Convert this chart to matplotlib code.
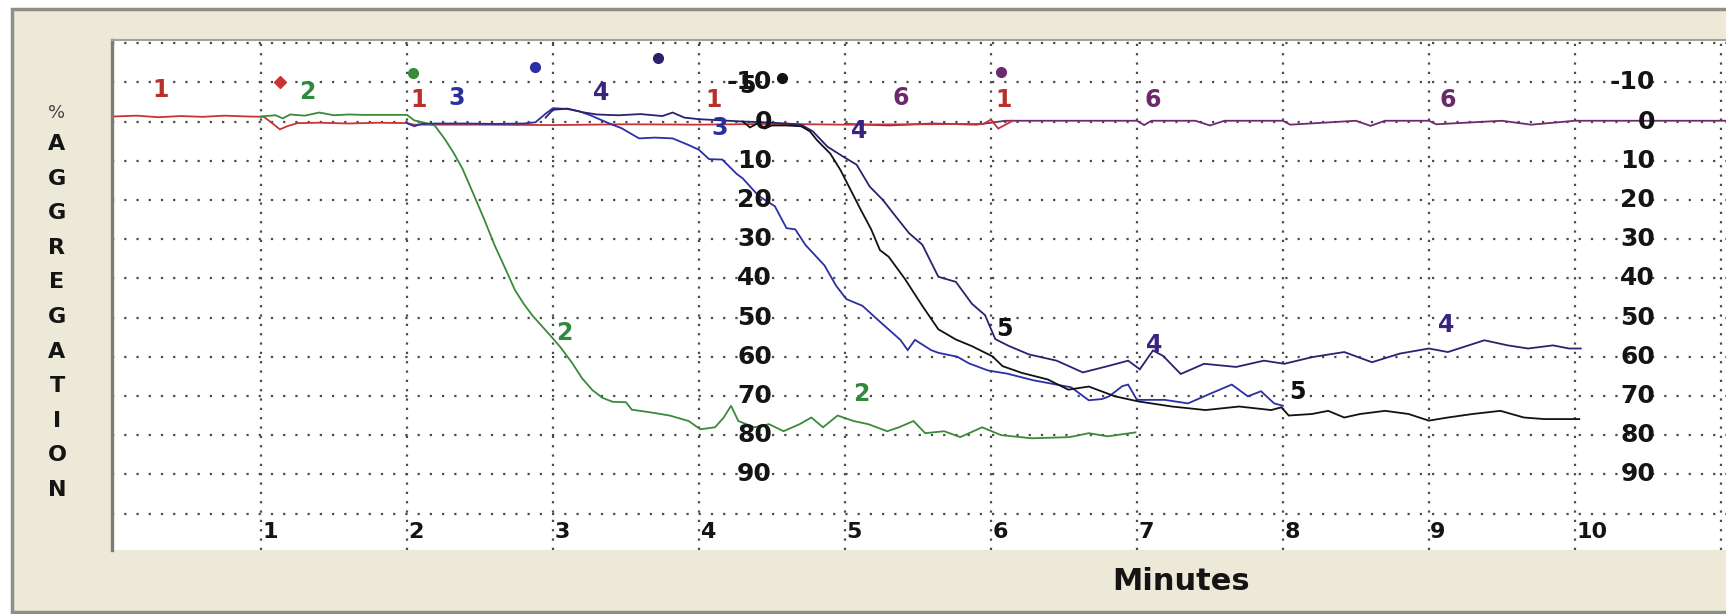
"""
Platelet aggregation tracing: six channels plotted against time,
drawn in the style of the aggregometer's own screen (beige panel,
dotted grid, % aggregation increasing downwards).
Output: out.png
"""

import matplotlib
matplotlib.use('Agg')
import matplotlib.pyplot as plt
from matplotlib.patches import Rectangle

# ── TRACES (minutes, % aggregation) ────────────────────────────────────────────
T1 = [0.0, 0.15, 0.3, 0.45, 0.6, 0.75, 0.9, 1.02, 1.08, 1.13, 1.18, 1.25, 1.4,
      1.6, 1.8, 2.0, 2.05, 2.5, 3.0, 3.5, 4.0, 4.5, 5.0, 5.5, 5.95, 6.0, 6.05,
      6.1, 6.15]
Y1 = [-1.3, -1.5, -1.1, -1.4, -1.2, -1.5, -1.3, -1.2, 0.5, 2.0, 1.2, 0.4, 0.3,
      0.5, 0.3, 0.4, 0.8, 0.8, 0.9, 0.7, 0.8, 0.6, 0.8, 0.7, 0.6, -0.5, 1.8,
      0.8, -0.2]

T2 = [1.0, 1.1, 1.15, 1.2, 1.3, 1.4, 1.5, 1.6, 1.7, 1.8, 1.9, 2.0, 2.05, 2.12,
      2.19, 2.26, 2.32, 2.38, 2.45, 2.53, 2.6, 2.68, 2.74, 2.8, 2.86, 2.92,
      2.98, 3.05, 3.13, 3.2, 3.27, 3.34, 3.41, 3.5, 3.54, 3.67, 3.80, 3.93,
      4.01, 4.11, 4.17, 4.22, 4.27, 4.38, 4.48, 4.58, 4.69, 4.77, 4.85, 4.95,
      5.06, 5.16, 5.29, 5.37, 5.47, 5.55, 5.68, 5.79, 5.94, 6.07, 6.28, 6.54,
      6.67, 6.8, 6.99]
Y2 = [-1.3, -1.6, -0.8, -1.8, -1.5, -2.3, -1.6, -1.8, -1.7, -1.7, -1.7, -1.7,
      -0.3, 0.3, 1.0, 4.5, 8.0, 12.0, 18.0, 25.0, 31.5, 38.0, 43.0, 46.5,
      49.5, 52.0, 54.5, 57.5, 61.5, 65.5, 68.5, 70.5, 71.5, 71.6, 73.5, 74.2,
      75.0, 76.4, 78.5, 78.0, 75.5, 72.5, 76.4, 78.0, 77.2, 79.0, 77.2, 75.5,
      78.0, 75.0, 76.4, 77.2, 79.0, 78.0, 76.4, 79.5, 79.0, 80.5, 78.0, 80.0,
      80.8, 80.5, 79.5, 80.3, 79.3]

T3 = [2.0, 2.05, 2.1, 2.2, 2.4, 2.6, 2.8, 2.88, 2.95, 3.0, 3.1, 3.18, 3.25,
      3.38, 3.47, 3.59, 3.7, 3.82, 3.93, 4.0, 4.07, 4.16, 4.26, 4.3, 4.41,
      4.52, 4.6, 4.66, 4.73, 4.86, 4.94, 5.01, 5.12, 5.25, 5.38, 5.43, 5.48,
      5.59, 5.64, 5.77, 5.85, 5.98, 6.11, 6.29, 6.42, 6.55, 6.67, 6.76, 6.81,
      6.9, 6.94, 7.0, 7.19, 7.35, 7.51, 7.65, 7.76, 7.85, 7.94, 8.0]
Y3 = [0.4, 1.2, 0.6, 0.5, 0.5, 0.6, 0.5, 0.2, -2.0, -3.4, -3.2, -2.6, -1.7,
      0.4, 1.7, 4.3, 4.1, 4.3, 6.0, 7.2, 9.6, 9.7, 13.4, 14.5, 19.0, 21.6,
      27.2, 27.5, 31.5, 36.7, 41.9, 45.3, 47.0, 51.4, 55.7, 58.3, 55.7, 58.3,
      59.0, 60.0, 61.7, 63.5, 64.3, 66.0, 66.9, 67.8, 71.1, 70.8, 70.1, 67.5,
      67.1, 71.0, 71.0, 71.9, 69.3, 67.1, 70.1, 68.8, 71.9, 72.5]

T4 = [2.95, 3.0, 3.1, 3.2, 3.3, 3.45, 3.6, 3.75, 3.82, 3.9, 4.0, 4.15, 4.3,
      4.45, 4.6, 4.7, 4.78, 4.88, 4.99, 5.08, 5.17, 5.26, 5.35, 5.44, 5.53,
      5.64, 5.76, 5.87, 5.96, 6.03, 6.12, 6.26, 6.45, 6.63, 6.81, 6.94, 7.02,
      7.11, 7.18, 7.3, 7.46, 7.68, 7.87, 8.01, 8.2, 8.42, 8.61, 8.8, 9.0,
      9.13, 9.38, 9.54, 9.68, 9.85, 9.96, 10.04]
Y4 = [-1.0, -3.0, -3.3, -2.4, -1.8, -1.6, -1.9, -1.4, -2.3, -1.0, -0.6, -0.3,
      0.0, 0.2, 0.5, 0.8, 2.5, 6.4, 9.0, 11.0, 16.6, 20.0, 24.3, 28.5, 31.4,
      39.6, 40.9, 46.5, 49.4, 55.5, 57.2, 59.4, 61.0, 64.0, 62.3, 61.0, 63.2,
      58.4, 59.8, 64.4, 61.8, 62.6, 61.0, 61.8, 60.1, 58.8, 61.4, 59.2, 57.9,
      58.8, 55.8, 57.1, 57.9, 57.1, 57.9, 57.9]

T5 = [4.3, 4.35, 4.4, 4.45, 4.5, 4.6, 4.7, 4.76, 4.81, 4.9, 4.97, 5.04, 5.11,
      5.18, 5.24, 5.3, 5.41, 5.53, 5.64, 5.76, 5.87, 6.01, 6.08, 6.21, 6.39,
      6.53, 6.67, 6.85, 7.01, 7.24, 7.47, 7.7, 7.92, 7.99, 8.04, 8.2, 8.31,
      8.42, 8.53, 8.7, 8.86, 9.0, 9.13, 9.3, 9.49, 9.65, 9.79, 10.03]
Y5 = [0.0, 1.5, 0.5, 1.8, 1.0, 1.0, 1.2, 2.5, 4.8, 8.2, 12.4, 17.5, 22.6,
      27.5, 32.8, 34.5, 40.1, 47.0, 53.0, 55.6, 57.3, 59.9, 62.4, 64.1, 65.8,
      68.4, 67.6, 70.1, 71.4, 72.7, 73.6, 72.7, 73.6, 72.9, 75.0, 74.6, 73.8,
      75.5, 74.6, 73.8, 74.6, 76.3, 75.5, 74.6, 73.8, 75.5, 75.9, 75.9]

T6 = [5.0, 5.3, 5.6, 5.9, 6.1, 6.5, 7.0, 7.05, 7.1, 7.4, 7.5, 7.6, 8.0, 8.05,
      8.5, 8.6, 8.7, 9.0, 9.05, 9.5, 9.7, 10.0, 10.5, 11.07]
Y6 = [0.6, 1.0, 0.5, 0.8, -0.2, -0.2, -0.2, 0.9, -0.2, -0.2, 1.0, -0.2, -0.2,
      0.8, -0.2, 1.1, -0.2, -0.2, 0.7, -0.2, 0.8, -0.2, -0.2, -0.2]

# reagent addition marks at the top of each channel
MARK_T = [1.13, 2.04, 2.88, 3.72, 4.57, 6.07]
MARK_Y = [-10.1, -12.3, -13.9, -16.1, -11.0, -12.7]
MARK_ID = ['1', '2', '3', '4', '5', '6']

# channel number tags written along the traces
TAG_TEXT = ['1', '2', '1', '3', '4', '1', '5', '3', '4', '6', '1', '6', '6',
            '2', '2', '5', '4', '5', '4']
TAG_T = [0.31, 1.32, 2.08, 2.34, 3.33, 4.10, 4.33, 4.14, 5.10, 5.38, 6.09,
         7.11, 9.13, 3.08, 5.11, 6.09, 7.12, 8.10, 9.12]
TAG_Y = [-8.0, -7.5, -5.5, -6.0, -7.2, -5.5, -9.0, 1.6, 2.3, -5.9, -5.5,
         -5.5, -5.5, 54.0, 69.5, 53.0, 57.0, 69.0, 52.0]

SCALE_VALUES = [-10, 0, 10, 20, 30, 40, 50, 60, 70, 80, 90]
SCALE_COLUMNS = [4.50, 10.55]
MINUTE_TICKS = [1, 2, 3, 4, 5, 6, 7, 8, 9, 10]

# ── STYLE ──────────────────────────────────────────────────────────────────────
W, H = 1726, 614
PANEL = '#ECE9D8'
FRAME = '#8E8E84'
LINE_COLORS = {'1': '#C83434', '2': '#3A8A3A', '3': '#2B2FA6',
               '4': '#2E2070', '5': '#111111', '6': '#6E2A6E'}
TAG_COLORS = {'1': '#B8302A', '2': '#2F8A3C', '3': '#2B2F9A',
              '4': '#3A2480', '5': '#111111', '6': '#6A2A6A'}
FONT = 'DejaVu Sans'

fig = plt.figure(figsize=(W / 100, H / 100), dpi=100, facecolor='white')

# beige instrument panel with grey bevel
fig.add_artist(Rectangle((12 / W, 2 / H), 1.2, (612 - 9) / H,
                         transform=fig.transFigure, facecolor=PANEL,
                         edgecolor=FRAME, linewidth=2.5, zorder=0))

ax = fig.add_axes([112 / W, 1 - 550 / H, 1 - 112 / W, (550 - 40) / H])
ax.set_facecolor('white')
ax.set_xlim(-0.02, 11.035)
ax.set_ylim(109.3, -20.8)
ax.set_xticks([])
ax.set_yticks([])
for side in ('right', 'bottom'):
    ax.spines[side].set_visible(False)
ax.spines['left'].set_color('#7D7D72')
ax.spines['left'].set_linewidth(2.4)
ax.spines['top'].set_color('#A3A39A')
ax.spines['top'].set_linewidth(1.5)

# dotted grid
for k in range(1, 12):
    ax.axvline(k, color='#4A4A4A', lw=1.6, ls=(0, (1, 3.2)), zorder=1)
for v in range(-20, 101, 10):
    ax.axhline(v, color='#4A4A4A', lw=1.6, ls=(0, (1, 4.5)), zorder=1)

# ── TRACES ─────────────────────────────────────────────────────────────────────
traces = [('6', T6, Y6), ('1', T1, Y1), ('2', T2, Y2),
          ('3', T3, Y3), ('4', T4, Y4), ('5', T5, Y5)]
for cid, t, y in traces:
    ax.plot(t, y, color=LINE_COLORS[cid], lw=1.3, zorder=3,
            solid_joinstyle='miter')

for t, y, cid in zip(MARK_T, MARK_Y, MARK_ID):
    ax.plot(t, y, marker='D' if cid == '1' else 'o', ms=6 if cid == '1' else 7,
            color=LINE_COLORS[cid], mec=LINE_COLORS[cid], zorder=4)

for s, t, y in zip(TAG_TEXT, TAG_T, TAG_Y):
    ax.text(t, y, s, color=TAG_COLORS[s], fontsize=17, fontweight='bold',
            family=FONT, ha='center', va='center', zorder=5)

# % scale printed inside the plot
for xc in SCALE_COLUMNS:
    for v in SCALE_VALUES:
        ax.text(xc, v, f'{v}', color='#141414', fontsize=18,
                fontweight='bold', family=FONT, ha='right', va='center',
                zorder=5)

# minute labels along the bottom
for m in MINUTE_TICKS:
    ax.text(m + 0.01, 104.7, str(m), color='#141414', fontsize=16,
            fontweight='bold', family=FONT, ha='left', va='center', zorder=5)

# ── AXIS TITLES ────────────────────────────────────────────────────────────────
fig.text(57 / W, 1 - 113 / H, '%', color='#444444', fontsize=13,
         family=FONT, ha='center', va='center')
for i, ch in enumerate('AGGREGATION'):
    fig.text(57 / W, 1 - (144 + i * 34.6) / H, ch, color='#141414',
             fontsize=16, fontweight='bold', family=FONT,
             ha='center', va='center')

fig.text(1181 / W, 1 - 582 / H, 'Minutes', color='#141414', fontsize=22,
         fontweight='bold', family=FONT, ha='center', va='center')

fig.savefig('out.png', dpi=100, facecolor=fig.get_facecolor())
